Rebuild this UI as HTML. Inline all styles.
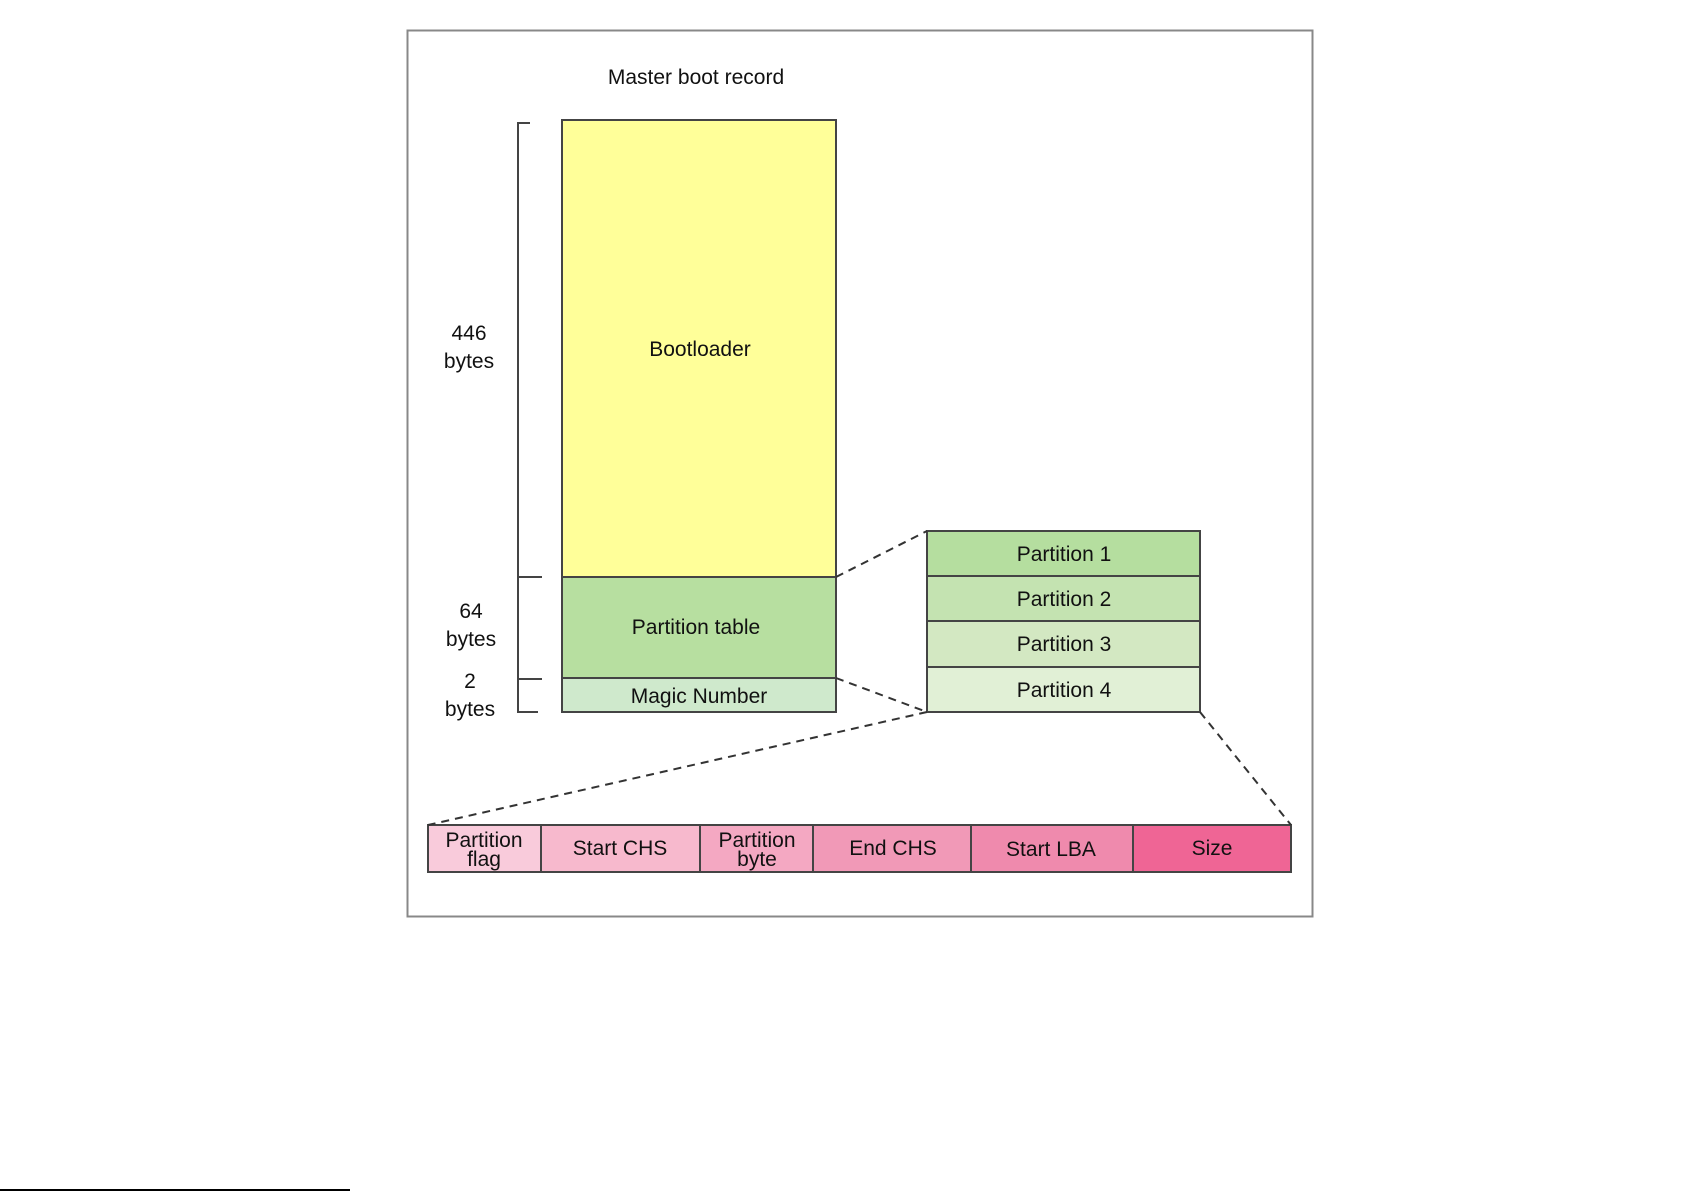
<!DOCTYPE html>
<html><head><style>
body{margin:0;background:#fff;width:1685px;height:1191px;overflow:hidden}
text{font-family:"Liberation Sans",sans-serif;font-size:21px;fill:#111;text-anchor:middle}
</style></head><body>
<svg width="1685" height="1191" xmlns="http://www.w3.org/2000/svg">
<rect x="407.5" y="30.5" width="905" height="886" fill="#fff" stroke="#888" stroke-width="2"/>
<text x="696" y="84">Master boot record</text>
<g stroke="#444" stroke-width="2">
<rect x="562" y="120" width="274" height="457" fill="#ffff99"/>
<rect x="562" y="577" width="274" height="101" fill="#b7dfa0"/>
<rect x="562" y="678" width="274" height="34" fill="#cfe9cc"/>
<rect x="927" y="531" width="273" height="45" fill="#b5de9f"/>
<rect x="927" y="576" width="273" height="45" fill="#c4e3b1"/>
<rect x="927" y="621" width="273" height="46" fill="#d3e8c2"/>
<rect x="927" y="667" width="273" height="45" fill="#e1f0d6"/>
<rect x="428" y="825" width="113" height="47" fill="#f9cbdb"/>
<rect x="541" y="825" width="159" height="47" fill="#f7b9cd"/>
<rect x="700" y="825" width="113" height="47" fill="#f4a8c2"/>
<rect x="813" y="825" width="158" height="47" fill="#f199b7"/>
<rect x="971" y="825" width="162" height="47" fill="#ef8aad"/>
<rect x="1133" y="825" width="158" height="47" fill="#ef6595"/>
<path d="M530 123H518V712H538M518 577H542M518 679H542" fill="none"/>
</g>
<g stroke="#333" stroke-width="2" stroke-dasharray="8,6" fill="none">
<line x1="836" y1="577" x2="927" y2="531"/>
<line x1="836" y1="678" x2="927" y2="712"/>
<line x1="927" y1="712" x2="428" y2="825"/>
<line x1="1200" y1="712" x2="1291" y2="825"/>
</g>
<text x="700" y="356">Bootloader</text>
<text x="696" y="634">Partition table</text>
<text x="699" y="703">Magic Number</text>
<text x="469" y="340">446</text><text x="469" y="368">bytes</text>
<text x="471" y="618">64</text><text x="471" y="646">bytes</text>
<text x="470" y="688">2</text><text x="470" y="716">bytes</text>
<text x="1064" y="561">Partition 1</text>
<text x="1064" y="606">Partition 2</text>
<text x="1064" y="651">Partition 3</text>
<text x="1064" y="697">Partition 4</text>
<text x="484" y="847">Partition</text><text x="484" y="866">flag</text>
<text x="620" y="855">Start CHS</text>
<text x="757" y="847">Partition</text><text x="757" y="866">byte</text>
<text x="893" y="855">End CHS</text>
<text x="1051" y="856">Start LBA</text>
<text x="1212" y="855">Size</text>
<line x1="0" y1="1190" x2="350" y2="1190" stroke="#000" stroke-width="2"/>
</svg>
</body></html>
